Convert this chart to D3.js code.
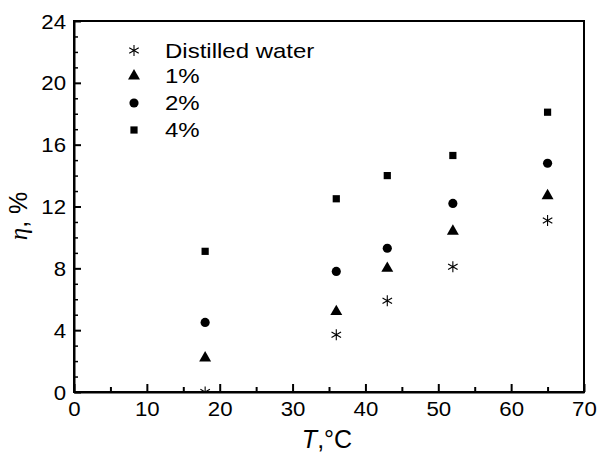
<!DOCTYPE html>
<html><head><meta charset="utf-8">
<script src="https://cdn.jsdelivr.net/npm/d3@7"></script>
<style>body{margin:0;background:#fff}svg{display:block}text{font-family:"Liberation Sans",Arial,sans-serif;fill:#000}</style>
</head><body><svg id="c" width="598" height="454"></svg>
<script>
const temps = [18, 36, 43, 52, 65];
const water = [0, 3.7, 5.9, 8.1, 11.1];
const pct1 = [2.2, 5.2, 8.0, 10.4, 12.7];
const pct2 = [4.5, 7.8, 9.3, 12.2, 14.8];
const pct4 = [9.1, 12.5, 14.0, 15.3, 18.1];
const seriesNames = ["Distilled water", "1%", "2%", "4%"];
const xTicks = [0, 10, 20, 30, 40, 50, 60, 70];
const yTicks = [0, 4, 8, 12, 16, 20, 24];

const svg = d3.select("#c");
const L = 74, R = 584, T = 21, B = 392;
const x = d3.scaleLinear().domain([0, 70]).range([L, R]);
const y = d3.scaleLinear().domain([0, 24]).range([B, T]);

svg.append("defs").append("clipPath").attr("id", "clip")
  .append("rect").attr("x", L).attr("y", T).attr("width", R - L).attr("height", B - T);

// frame
svg.append("rect").attr("x", L).attr("y", T).attr("width", R - L).attr("height", B - T)
  .attr("fill", "none").attr("stroke", "#000").attr("stroke-width", 2);

// x axis
const xAx = svg.append("g").attr("transform", `translate(0,${B})`)
  .call(d3.axisBottom(x).tickValues(xTicks).tickSizeInner(-8).tickSizeOuter(0).tickPadding(9));
xAx.select(".domain").attr("stroke-width", 2);
xAx.selectAll(".tick line").attr("stroke-width", 2);
xAx.selectAll("text").attr("font-size", 21).attr("dy", "0.71em")
  .attr("transform", "scale(1.06,1)");
const xMinor = svg.append("g").attr("transform", `translate(0,${B})`)
  .call(d3.axisBottom(x).tickValues(d3.range(5, 70, 10)).tickSizeInner(-5).tickSizeOuter(0).tickFormat(""));
xMinor.select(".domain").remove();
xMinor.selectAll(".tick line").attr("stroke-width", 2);

// y axis
const yAx = svg.append("g").attr("transform", `translate(${L},0)`)
  .call(d3.axisLeft(y).tickValues(yTicks).tickSizeInner(-7).tickSizeOuter(0).tickPadding(8));
yAx.select(".domain").attr("stroke-width", 2);
yAx.selectAll(".tick line").attr("stroke-width", 2);
yAx.selectAll("text").attr("font-size", 21).attr("dy", "0.34em")
  .attr("transform", "scale(1.06,1)").attr("x", -8 / 1.06);
const yMinor = svg.append("g").attr("transform", `translate(${L},0)`)
  .call(d3.axisLeft(y).tickValues(d3.range(1, 24).filter(v => v % 4 !== 0)).tickSizeInner(-4).tickSizeOuter(0).tickFormat(""));
yMinor.select(".domain").remove();
yMinor.selectAll(".tick line").attr("stroke-width", 1.5);

// axis titles
const xt = svg.append("text").attr("x", 327).attr("y", 448).attr("text-anchor", "middle").attr("font-size", 25);
xt.append("tspan").attr("font-style", "italic").text("T");
xt.append("tspan").text(",°C");
const yt = svg.append("text").attr("transform", "translate(27,216) rotate(-90)").attr("text-anchor", "middle").attr("font-size", 25);
yt.append("tspan").attr("font-style", "italic").attr("font-family", "Liberation Serif, serif").text("η");
yt.append("tspan").text(", %");

// symbols
function asterisk(r) {
  const p = d3.path();
  for (const a of [90, 30, -30]) {
    const dx = r * Math.cos(a * Math.PI / 180), dy = r * Math.sin(a * Math.PI / 180);
    p.moveTo(-dx, -dy); p.lineTo(dx, dy);
  }
  return p.toString();
}
const symFn = {
  "Distilled water": () => asterisk(5.5),
  "1%": d3.symbol().type(d3.symbolTriangle).size(62),
  "2%": d3.symbol().type(d3.symbolCircle).size(66),
  "4%": d3.symbol().type(d3.symbolSquare).size(52)
};
function drawSym(g, name, cx, cy) {
  const p = g.append("path").attr("d", symFn[name]()).attr("transform", `translate(${cx},${cy})`);
  if (name === "Distilled water") p.attr("fill", "none").attr("stroke", "#000").attr("stroke-width", 1.1);
  else p.attr("fill", "#000");
}
const data = [water, pct1, pct2, pct4];
const pg = svg.append("g").attr("clip-path", "url(#clip)");
seriesNames.forEach((n, i) => {
  temps.forEach((t, j) => drawSym(pg, n, x(t), y(data[i][j])));
});

// legend
const legY = [50.5, 76, 103, 130];
seriesNames.forEach((n, i) => {
  drawSym(svg, n, 134, legY[i]);
  svg.append("text").attr("transform", `translate(165,${legY[i]}) scale(1.2,1)`)
    .attr("dy", "0.36em").attr("font-size", 20).text(n);
});
</script></body></html>
